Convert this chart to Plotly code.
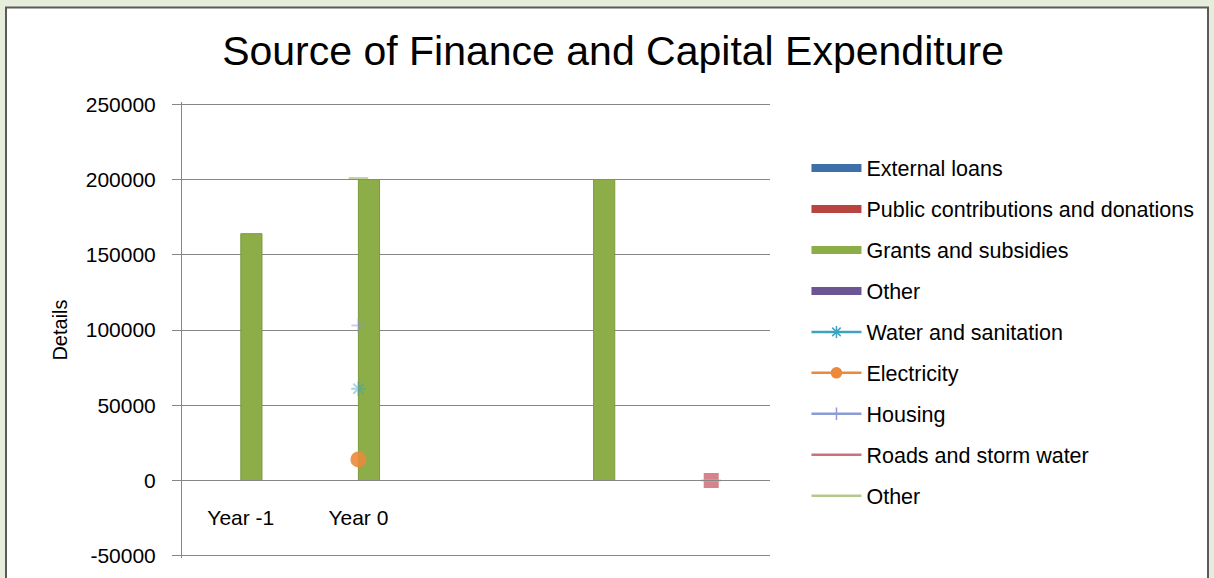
import plotly.graph_objects as go

# categories (only the first two carry labels in the original chart)
categories = ["Year -1", "Year 0", "Year 1", "Year 2", "Year 3"]
category_labels = ["Year -1", "Year 0", "", "", ""]

# source of finance (bars)
external_loans = [None, None, None, None, None]
public_contributions = [None, None, None, None, None]
grants_subsidies = [164000, 200000, None, 200000, None]
other_finance = [None, None, None, None, None]

# capital expenditure (lines, mostly single points)
water_sanitation = [None, 61000, None, None, None]
electricity = [None, 14000, None, None, None]
housing = [None, 103000, None, None, None]
roads_storm_water = [None, None, None, None, 0]
other_expenditure = [None, 201000, None, None, 0]

y_ticks = [-50000, 0, 50000, 100000, 150000, 200000, 250000]
y_tick_labels = ["-50000", "0", "50000", "100000", "150000", "200000", "250000"]

FONT = "Arial, Liberation Sans, sans-serif"

bar_series = [
    ("External loans", external_loans, "#3f6fa9"),
    ("Public contributions and donations", public_contributions, "#b8433f"),
    ("Grants and subsidies", grants_subsidies, "#8dad48"),
    ("Other", other_finance, "#6b5592"),
]
line_series = [
    ("Water and sanitation", water_sanitation, "#3fa3bd", "asterisk-open", 12, 0.45),
    ("Electricity", electricity, "#ec8a3c", "circle", 14, 0.9),
    ("Housing", housing, "#8b9bd6", "cross-thin-open", 10, 0.45),
    ("Roads and storm water", roads_storm_water, "#cf6f78", "square", 13, 0.85),
    ("Other", other_expenditure, "#b3c98e", "line-ew-open", 14, 0.8),
]

# small padding so the 250000 / -50000 gridlines are drawn
y_range = [-51500, 251500]

fig = go.Figure()

for name, vals, col in bar_series:
    fig.add_trace(go.Bar(x=categories, y=vals, name=name, marker_color=col,
                         marker_line=dict(color="#7b9a3c", width=1), showlegend=False))

for name, vals, col, sym, sz, op in line_series:
    fig.add_trace(go.Scatter(x=categories, y=vals, name=name, mode="lines+markers",
                             line=dict(color=col, width=2.5), opacity=op,
                             marker=dict(symbol=sym, size=sz, color=col,
                                         line=dict(color=col, width=2)),
                             showlegend=False, connectgaps=False))

# legend entries (Excel style wide swatches)
for i, (name, vals, col) in enumerate(bar_series):
    fig.add_trace(go.Scatter(x=[None], y=[None], name=name, mode="lines",
                             line=dict(color=col, width=8), legendgroup="b%d" % i))
legend_markers = {"Water and sanitation": ("asterisk-open", 10),
                  "Electricity": ("circle", 10),
                  "Housing": ("cross-thin-open", 9)}
for i, (name, vals, col, sym, sz, op) in enumerate(line_series):
    if name in legend_markers:
        s, z = legend_markers[name]
        fig.add_trace(go.Scatter(x=[None], y=[None], name=name, mode="lines+markers",
                                 line=dict(color=col, width=2.5),
                                 marker=dict(symbol=s, size=z, color=col,
                                             line=dict(color=col, width=1.5)),
                                 legendgroup="l%d" % i))
    else:
        fig.add_trace(go.Scatter(x=[None], y=[None], name=name, mode="lines",
                                 line=dict(color=col, width=2.5), legendgroup="l%d" % i))

fig.update_layout(
    width=1214, height=578,
    margin=dict(l=182, r=444, t=101.7, b=19.8),
    paper_bgcolor="#e6eedb",
    plot_bgcolor="white",
    font=dict(family=FONT, color="black"),
    title=dict(text="Source of Finance and Capital Expenditure",
               font=dict(size=41, family=FONT, color="black"),
               x=0.505, xref="container", xanchor="center",
               y=0.912, yref="container", yanchor="middle"),
    barmode="group", bargap=0.28, bargroupgap=0,
    legend=dict(x=1.062, xanchor="left", y=0.9, yanchor="top",
                font=dict(size=21.5, family=FONT), itemwidth=50,
                traceorder="grouped", tracegroupgap=10,
                bgcolor="rgba(0,0,0,0)"),
    shapes=[dict(type="rect", xref="paper", yref="paper",
                 x0=-0.2993, x1=1.7449, y0=-0.1, y1=1.2074,
                 fillcolor="white", line=dict(color="#5a5a5a", width=2),
                 layer="below")],
)

fig.update_yaxes(range=y_range, tickvals=y_ticks, ticktext=y_tick_labels,
                 showgrid=True, gridcolor="#868686", gridwidth=1,
                 zeroline=False, showline=True, linecolor="#868686", linewidth=1,
                 ticks="outside", ticklen=9, tickcolor="#868686",
                 ticklabelstandoff=12,
                 tickfont=dict(size=21, family=FONT),
                 title=dict(text="Details", font=dict(size=20, family=FONT), standoff=12))

fig.update_xaxes(type="category", categoryorder="array", categoryarray=categories,
                 tickvals=categories, ticktext=category_labels,
                 anchor="free", position=(0 - y_range[0]) / (y_range[1] - y_range[0]),
                 showline=True, linecolor="#868686", linewidth=1,
                 showgrid=False, ticks="", ticklabelstandoff=18,
                 tickfont=dict(size=21, family=FONT), range=[-0.5, 4.5])

fig.write_html("out.html", config={"displayModeBar": False},
               post_script="document.body.style.margin='0';")
